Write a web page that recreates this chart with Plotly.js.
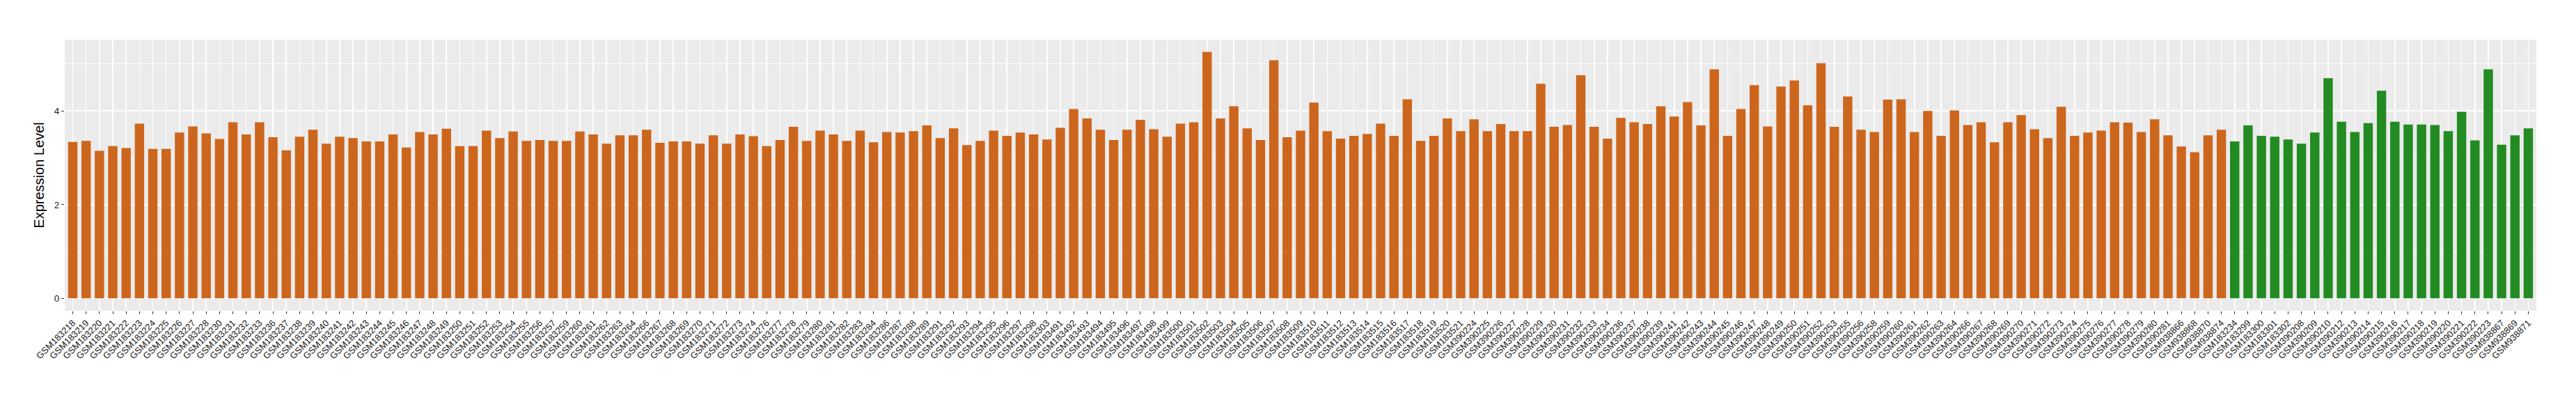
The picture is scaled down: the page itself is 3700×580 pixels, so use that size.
<!DOCTYPE html>
<html>
<head>
<meta charset="utf-8">
<script src="https://cdn.plot.ly/plotly-3.0.1.min.js"></script>
<style>html,body{margin:0;padding:0;background:#fff;}#chart{width:3700px;height:580px;}</style>
</head>
<body>
<div id="chart"></div>
<script>
// Group 1 (orange) samples and expression values
const samplesA = [
"GSM183218","GSM183219","GSM183220","GSM183221","GSM183222","GSM183223","GSM183224","GSM183225","GSM183226","GSM183227",
"GSM183228","GSM183230","GSM183231","GSM183232","GSM183233","GSM183236","GSM183237","GSM183238","GSM183239","GSM183240",
"GSM183241","GSM183242","GSM183243","GSM183244","GSM183245","GSM183246","GSM183247","GSM183248","GSM183249","GSM183250",
"GSM183251","GSM183252","GSM183253","GSM183254","GSM183255","GSM183256","GSM183257","GSM183259","GSM183260","GSM183261",
"GSM183262","GSM183263","GSM183264","GSM183266","GSM183267","GSM183268","GSM183269","GSM183270","GSM183271","GSM183272",
"GSM183273","GSM183274","GSM183276","GSM183277","GSM183278","GSM183279","GSM183280","GSM183281","GSM183282","GSM183283",
"GSM183284","GSM183286","GSM183287","GSM183288","GSM183289","GSM183291","GSM183292","GSM183293","GSM183294","GSM183295",
"GSM183296","GSM183297","GSM183298","GSM183303","GSM183491","GSM183492","GSM183493","GSM183494","GSM183495","GSM183496",
"GSM183497","GSM183498","GSM183499","GSM183500","GSM183501","GSM183502","GSM183503","GSM183504","GSM183505","GSM183506",
"GSM183507","GSM183508","GSM183509","GSM183510","GSM183511","GSM183512","GSM183513","GSM183514","GSM183515","GSM183516",
"GSM183517","GSM183518","GSM183519","GSM183520","GSM183521","GSM390224","GSM390225","GSM390226","GSM390227","GSM390228",
"GSM390229","GSM390230","GSM390231","GSM390232","GSM390233","GSM390234","GSM390236","GSM390237","GSM390238","GSM390239",
"GSM390241","GSM390242","GSM390243","GSM390244","GSM390245","GSM390246","GSM390247","GSM390248","GSM390249","GSM390250",
"GSM390251","GSM390252","GSM390253","GSM390255","GSM390256","GSM390258","GSM390259","GSM390260","GSM390261","GSM390262",
"GSM390263","GSM390264","GSM390266","GSM390267","GSM390268","GSM390269","GSM390270","GSM390271","GSM390272","GSM390273",
"GSM390274","GSM390275","GSM390276","GSM390277","GSM390278","GSM390279","GSM390280","GSM390281","GSM938866","GSM938868",
"GSM938870","GSM938874"
];
const valuesA = [
3.34,3.36,3.15,3.25,3.21,3.73,3.19,3.19,3.54,3.67,
3.52,3.40,3.76,3.50,3.76,3.44,3.16,3.45,3.60,3.30,
3.45,3.42,3.35,3.35,3.50,3.22,3.55,3.50,3.62,3.25,
3.25,3.58,3.42,3.56,3.36,3.38,3.36,3.36,3.56,3.50,
3.30,3.48,3.48,3.60,3.32,3.35,3.35,3.30,3.48,3.30,
3.50,3.46,3.25,3.38,3.66,3.36,3.58,3.50,3.36,3.58,
3.33,3.55,3.54,3.57,3.69,3.42,3.63,3.27,3.36,3.58,
3.47,3.54,3.50,3.39,3.64,4.04,3.84,3.60,3.38,3.60,
3.81,3.61,3.45,3.73,3.76,5.26,3.84,4.10,3.63,3.38,
5.08,3.44,3.58,4.18,3.57,3.41,3.47,3.51,3.73,3.47,
4.25,3.36,3.47,3.84,3.57,3.82,3.57,3.72,3.57,3.57,
4.58,3.66,3.70,4.76,3.66,3.41,3.85,3.76,3.72,4.10,
3.88,4.19,3.69,4.89,3.47,4.04,4.55,3.67,4.52,4.65,
4.12,5.02,3.66,4.31,3.60,3.55,4.24,4.25,3.55,4.00,
3.47,4.01,3.70,3.76,3.33,3.76,3.91,3.61,3.42,4.09,
3.47,3.54,3.58,3.76,3.75,3.55,3.82,3.48,3.24,3.12,
3.48,3.60
];
// Group 2 (green) samples and expression values
const samplesB = [
"GSM183234","GSM183299","GSM183300","GSM183301","GSM183302","GSM390208","GSM390209","GSM390210","GSM390212","GSM390213",
"GSM390214","GSM390215","GSM390216","GSM390217","GSM390218","GSM390219","GSM390220","GSM390221","GSM390222","GSM390223",
"GSM938867","GSM938869","GSM938871"
];
const valuesB = [
3.35,3.69,3.47,3.45,3.39,3.30,3.54,4.70,3.77,3.55,
3.74,4.43,3.77,3.71,3.71,3.70,3.57,3.98,3.37,4.89,
3.28,3.48,3.63
];
const yTickVals = [0, 2, 4];
const yTickText = ["0", "2", "4"];
const yTitle = "Expression Level";

const allSamples = samplesA.concat(samplesB);
const n = allSamples.length;
const FONT = "Liberation Sans, Arial, sans-serif";

const traces = [
  {type: "bar", x: samplesA, y: valuesA, marker: {color: "#CD661D", line: {width: 0}}, hoverinfo: "x+y", showlegend: false},
  {type: "bar", x: samplesB, y: valuesB, marker: {color: "#228B22", line: {width: 0}}, hoverinfo: "x+y", showlegend: false}
];

const layout = {
  width: 3700, height: 580,
  paper_bgcolor: "#FFFFFF",
  plot_bgcolor: "#EBEBEB",
  margin: {l: 93, r: 57, t: 57, b: 134, pad: 0},
  barmode: "overlay",
  bargap: 0.3,
  showlegend: false,
  font: {family: FONT, color: "#1A1A1A"},
  xaxis: {
    type: "category",
    categoryorder: "array",
    categoryarray: allSamples,
    range: [-0.6, n - 0.4],
    tickangle: -45,
    ticks: "outside", ticklen: 4, tickwidth: 1, tickcolor: "#333333",
    tickfont: {size: 13, color: "#1A1A1A", family: FONT},
    showgrid: true, gridcolor: "#FFFFFF", gridwidth: 1.6,
    zeroline: false, showline: false,
    automargin: false
  },
  yaxis: {
    range: [-0.263, 5.52],
    tickmode: "array", tickvals: yTickVals, ticktext: yTickText,
    ticks: "outside", ticklen: 4, tickwidth: 1, tickcolor: "#333333",
    tickfont: {size: 13.5, color: "#1A1A1A", family: FONT},
    showgrid: true, gridcolor: "#FFFFFF", gridwidth: 1.6,
    minor: {tickmode: "array", tickvals: [1, 3, 5], showgrid: true, gridcolor: "#FFFFFF", gridwidth: 0.8, ticks: ""},
    zeroline: false, showline: false,
    title: {text: yTitle, font: {size: 20, color: "#000000", family: FONT}, standoff: 8},
    automargin: false
  }
};

Plotly.newPlot("chart", traces, layout, {staticPlot: true, displayModeBar: false});
</script>
</body>
</html>
